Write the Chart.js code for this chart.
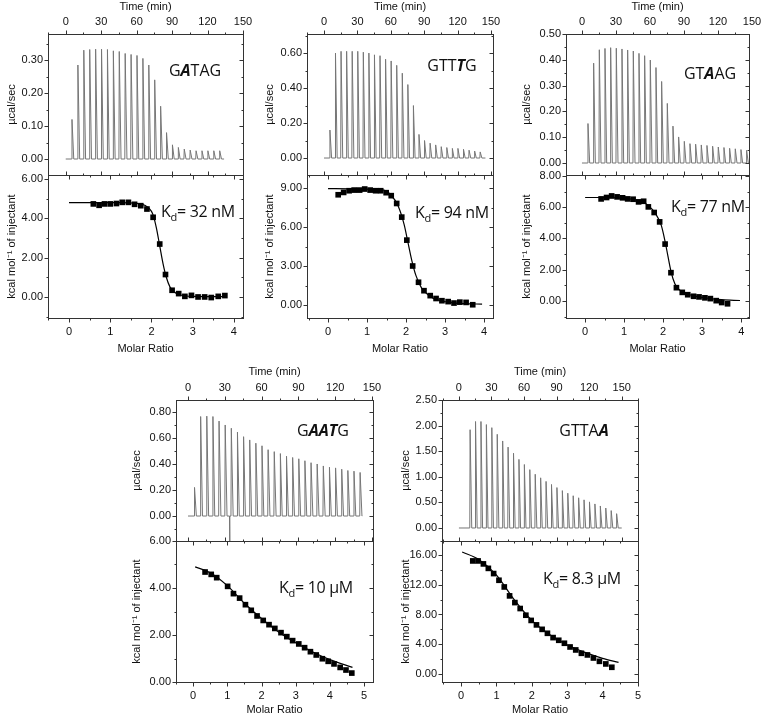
<!DOCTYPE html>
<html>
<head>
<meta charset="utf-8">
<title>ITC titrations</title>
<script src="https://cdn.jsdelivr.net/npm/chart.js@4.4.1/dist/chart.umd.min.js"></script>
<style>
  body { margin: 0; background: #fff; }
  #fig { position: relative; width: 763px; height: 717px; overflow: hidden; }
  #fig canvas { position: absolute; }
  .note { position: absolute; font-family: 'Open Sans', sans-serif; font-size: 16px; line-height: 1;
          color: #111; white-space: nowrap; transform: translate(-50%, -50%); }
  .note b { font-style: italic; }
  .note.kd { letter-spacing: -0.3px; }
  .note sub { font-size: 11px; vertical-align: -4px; line-height: 0; }
</style>
</head>
<body>
<div id="fig"></div>
<script>
// injection times (min) and values
const injMin = [5, 10, 15, 20, 25, 30, 35, 40, 45, 50, 55, 60, 65, 70, 75, 80, 85, 90, 95, 100, 105, 110, 115, 120, 125, 130, 135, 140, 145];

const timeTicks = [0, 30, 60, 90, 120, 150];
const ratioTicks4 = [0, 1, 2, 3, 4];
const ratioTicks5 = [0, 1, 2, 3, 4, 5];

// GATAG
const gatagBase = [0, 134];
const gatagPeaks = [0.12, 0.285, 0.33, 0.332, 0.333, 0.333, 0.332, 0.328, 0.326, 0.32, 0.317, 0.314, 0.305, 0.285, 0.24, 0.16, 0.08, 0.043, 0.035, 0.03, 0.027, 0.025, 0.025, 0.025, 0.025, 0.025];
const gatagRatio = [0.59, 0.73, 0.86, 1.0, 1.15, 1.29, 1.44, 1.59, 1.74, 1.89, 2.04, 2.2, 2.34, 2.5, 2.66, 2.81, 2.97, 3.13, 3.29, 3.45, 3.62, 3.78];
const gatagHeat = [4.73, 4.66, 4.73, 4.73, 4.75, 4.81, 4.81, 4.71, 4.64, 4.47, 4.05, 2.69, 1.14, 0.34, 0.17, 0.03, 0.08, 0, 0, -0.03, 0.03, 0.07];
const gatagFitX = [0, 1.2, 1.6, 1.85, 2.0, 2.05, 2.12, 2.2, 2.28, 2.36, 2.45, 2.55, 2.7, 3.0, 3.8];
const gatagFitY = [4.8, 4.8, 4.77, 4.65, 4.35, 4.1, 3.5, 2.6, 1.7, 1.0, 0.5, 0.25, 0.1, 0.03, 0.02];
const gatagRawTicks = [0, 0.1, 0.2, 0.3];
const gatagHeatTicks = [0, 2, 4, 6];

// GTTTG
const gtttgBase = [0, 145];
const gtttgPeaks = [0.16, 0.60, 0.61, 0.61, 0.61, 0.61, 0.605, 0.60, 0.59, 0.585, 0.565, 0.555, 0.53, 0.485, 0.42, 0.30, 0.135, 0.10, 0.085, 0.075, 0.065, 0.06, 0.055, 0.055, 0.05, 0.045, 0.04, 0.035];
const gtttgRatio = [0.26, 0.40, 0.54, 0.67, 0.81, 0.94, 1.08, 1.22, 1.35, 1.49, 1.62, 1.76, 1.89, 2.02, 2.17, 2.32, 2.46, 2.62, 2.77, 2.92, 3.08, 3.23, 3.38, 3.54, 3.71];
const gtttgHeat = [8.48, 8.66, 8.79, 8.84, 8.84, 8.92, 8.84, 8.79, 8.79, 8.64, 8.41, 7.81, 6.76, 4.99, 3.0, 1.75, 1.1, 0.72, 0.5, 0.33, 0.26, 0.15, 0.22, 0.2, 0.02];
const gtttgFitX = [0, 1.4, 1.6, 1.8, 1.95, 2.05, 2.15, 2.25, 2.4, 2.6, 2.8, 3.1, 3.5, 3.95];
const gtttgFitY = [8.95, 8.85, 8.5, 7.6, 6.2, 4.8, 3.4, 2.3, 1.3, 0.7, 0.4, 0.2, 0.1, 0.07];
const gtttgRawTicks = [0, 0.2, 0.4, 0.6];
const gtttgHeatTicks = [0, 3, 6, 9];

// GTAAG
const gtaagBase = [0, 147];
const gtaagPeaks = [0.153, 0.387, 0.439, 0.444, 0.447, 0.445, 0.442, 0.438, 0.434, 0.425, 0.416, 0.399, 0.37, 0.316, 0.231, 0.143, 0.101, 0.084, 0.075, 0.073, 0.07, 0.068, 0.065, 0.062, 0.06, 0.057, 0.055, 0.052, 0.049];
const gtaagRatio = [0.41, 0.55, 0.68, 0.82, 0.96, 1.09, 1.23, 1.37, 1.5, 1.62, 1.77, 1.91, 2.05, 2.2, 2.34, 2.49, 2.63, 2.78, 2.92, 3.07, 3.21, 3.36, 3.5, 3.65];
const gtaagHeat = [6.53, 6.62, 6.72, 6.66, 6.6, 6.53, 6.51, 6.34, 6.38, 6.02, 5.66, 5.06, 3.64, 1.81, 0.85, 0.55, 0.4, 0.3, 0.26, 0.2, 0.15, 0.02, -0.1, -0.18];
const gtaagFitX = [0, 0.5, 1.0, 1.4, 1.6, 1.8, 1.95, 2.05, 2.12, 2.2, 2.3, 2.4, 2.5, 2.7, 3.0, 3.5, 3.97];
const gtaagFitY = [6.62, 6.62, 6.57, 6.4, 6.15, 5.6, 4.85, 3.8, 2.9, 1.9, 1.1, 0.75, 0.58, 0.38, 0.22, 0.08, 0.03];
const gtaagRawTicks = [0, 0.1, 0.2, 0.3, 0.4, 0.5];
const gtaagHeatTicks = [0, 2, 4, 6, 8];

// GAATG
const gaatgBase = [0, 142];
const gaatgGlitch = [34, -0.3];
const gaatgPeaks = [0.22, 0.765, 0.768, 0.765, 0.73, 0.70, 0.675, 0.645, 0.61, 0.585, 0.56, 0.54, 0.51, 0.495, 0.48, 0.46, 0.45, 0.44, 0.425, 0.41, 0.40, 0.385, 0.375, 0.37, 0.36, 0.35, 0.345, 0.335];
const gaatgRatio = [0.35, 0.53, 0.69, 1.01, 1.18, 1.36, 1.53, 1.70, 1.87, 2.05, 2.22, 2.39, 2.57, 2.74, 2.91, 3.09, 3.26, 3.43, 3.60, 3.78, 3.95, 4.12, 4.30, 4.47, 4.64];
const gaatgHeat = [4.68, 4.58, 4.44, 4.07, 3.76, 3.57, 3.29, 3.05, 2.81, 2.62, 2.44, 2.28, 2.1, 1.93, 1.76, 1.62, 1.46, 1.29, 1.15, 0.99, 0.88, 0.77, 0.62, 0.51, 0.38];
const gaatgFitX = [0.06, 0.5, 1.0, 1.5, 2.0, 2.5, 3.0, 3.5, 4.0, 4.66];
const gaatgFitY = [4.9, 4.65, 4.1, 3.35, 2.7, 2.13, 1.67, 1.28, 0.95, 0.62];
const gaatgRawTicks = [0, 0.2, 0.4, 0.6, 0.8];
const gaatgHeatTicks = [0, 2, 4, 6];

// GTTAA
const gttaaBase = [0, 150];
const gttaaPeaks = [1.92, 2.08, 2.08, 2.02, 1.96, 1.83, 1.70, 1.58, 1.46, 1.34, 1.24, 1.14, 1.05, 0.98, 0.91, 0.85, 0.79, 0.73, 0.68, 0.63, 0.59, 0.55, 0.51, 0.47, 0.43, 0.39, 0.34, 0.28];
const gttaaRatio = [0.33, 0.48, 0.63, 0.77, 0.92, 1.07, 1.22, 1.37, 1.52, 1.67, 1.83, 1.98, 2.13, 2.29, 2.44, 2.6, 2.76, 2.92, 3.08, 3.24, 3.4, 3.57, 3.74, 3.91, 4.09, 4.26];
const gttaaHeat = [15.2, 15.2, 14.8, 14.2, 13.5, 12.6, 11.7, 10.5, 9.6, 8.8, 7.9, 7.2, 6.6, 6.0, 5.47, 4.89, 4.53, 4.13, 3.63, 3.23, 2.78, 2.56, 2.15, 1.7, 1.35, 0.9];
const gttaaFitX = [0.03, 0.5, 1.0, 1.5, 2.0, 2.5, 3.0, 3.5, 4.0, 4.45];
const gttaaFitY = [16.4, 15.4, 13.3, 10.0, 7.2, 5.3, 3.9, 2.9, 2.1, 1.55];
const gttaaRawTicks = [0, 0.5, 1, 1.5, 2, 2.5];
const gttaaHeatTicks = [0, 4, 8, 12, 16];

// layout of the two rows (pixels)
const rows = {
  1: { titleTop: 0, top: 34, mid: 175, bot: 318, bottom: 356 },
  2: { titleTop: 365, top: 400, mid: 541, bot: 682, bottom: 717 }
};

const panels = [
  { row: 1, l: 48, r: 243, titleX: 12, time: [-15, 150], raw: [-0.0485, 0.379], ratio: [-0.51, 4.22], heat: [-1.07, 6.2],
    times: injMin.slice(0, 26), peaks: gatagPeaks, base: gatagBase, rawTicks: gatagRawTicks, heatTicks: gatagHeatTicks, ratioTicks: ratioTicks4,
    mx: gatagRatio, my: gatagHeat, fx: gatagFitX, fy: gatagFitY,
    seq: 'G<b>A</b>TAG', seqAt: [195, 70], kd: 'K<sub>d</sub>= 32 nM', kdAt: [198, 211] },
  { row: 1, l: 307, r: 493, titleX: 270, time: [-15.3, 151.8], raw: [-0.097, 0.709], ratio: [-0.54, 4.23], heat: [-1.0, 10.0],
    times: injMin.slice(0, 28), peaks: gtttgPeaks, base: gtttgBase, rawTicks: gtttgRawTicks, heatTicks: gtttgHeatTicks, ratioTicks: ratioTicks4,
    mx: gtttgRatio, my: gtttgHeat, fx: gtttgFitX, fy: gtttgFitY,
    seq: 'GTT<b>T</b>G', seqAt: [452, 65], kd: 'K<sub>d</sub>= 94 nM', kdAt: [452, 212] },
  { row: 1, l: 566, r: 749, titleX: 527, time: [-14.1, 147.4], raw: [-0.0465, 0.5], ratio: [-0.49, 4.2], heat: [-1.09, 8.06],
    times: injMin.slice(0, 29), peaks: gtaagPeaks, base: gtaagBase, rawTicks: gtaagRawTicks, heatTicks: gtaagHeatTicks, ratioTicks: ratioTicks4,
    mx: gtaagRatio, my: gtaagHeat, fx: gtaagFitX, fy: gtaagFitY,
    seq: 'GT<b>A</b>AG', seqAt: [710, 73], kd: 'K<sub>d</sub>= 77 nM', kdAt: [708, 206] },
  { row: 2, l: 176, r: 373, titleX: 137, time: [-9.8, 150.8], raw: [-0.192, 0.892], ratio: [-0.5, 5.26], heat: [0, 6],
    times: injMin.slice(0, 28), peaks: gaatgPeaks, base: gaatgBase, glitch: gaatgGlitch, rawTicks: gaatgRawTicks, heatTicks: gaatgHeatTicks, ratioTicks: ratioTicks5,
    mx: gaatgRatio, my: gaatgHeat, fx: gaatgFitX, fy: gaatgFitY,
    seq: 'G<b>AAT</b>G', seqAt: [323, 430], kd: 'K<sub>d</sub>= 10 µM', kdAt: [316, 587] },
  { row: 2, l: 442, r: 638, titleX: 406, time: [-15.6, 165], raw: [-0.254, 2.5], ratio: [-0.54, 5.0], heat: [-1.08, 17.88],
    times: injMin.slice(1, 29), peaks: gttaaPeaks, base: gttaaBase, rawTicks: gttaaRawTicks, heatTicks: gttaaHeatTicks, ratioTicks: ratioTicks5,
    mx: gttaaRatio, my: gttaaHeat, fx: gttaaFitX, fy: gttaaFitY,
    seq: 'GTTA<b>A</b>', seqAt: [584, 430], kd: 'K<sub>d</sub>= 8.3 µM', kdAt: [582, 578] }
];

const fig = document.getElementById('fig');
const tickFont = { family: "'Liberation Sans', Arial, sans-serif", size: 11 };
const ink = '#111';

// spike train of the raw heat trace
function thermogram(times, peaks, base, glitch) {
  const pts = [{ x: base[0], y: 0 }];
  times.forEach((t, i) => {
    pts.push({ x: t, y: 0 }, { x: t + 0.3, y: peaks[i] }, { x: t + 1.8, y: 0 });
  });
  if (glitch) pts.push({ x: glitch[0] - 0.2, y: 0 }, { x: glitch[0], y: glitch[1] }, { x: glitch[0] + 0.2, y: 0 });
  pts.push({ x: base[1], y: 0 });
  return pts.sort((a, b) => a.x - b.x);
}

const pairs = (xs, ys) => xs.map((x, i) => ({ x, y: ys[i] }));

function noPad(s) { s.paddingLeft = 0; s.paddingRight = 0; s.paddingTop = 0; s.paddingBottom = 0; }

function axisX(position, range, ticks, title, size) {
  return {
    type: 'linear', position, min: range[0], max: range[1],
    afterBuildTicks: s => { s.ticks = ticks.map(v => ({ value: v })); },
    afterFit: s => { s.height = size; noPad(s); },
    grid: { display: false, drawTicks: true, tickLength: position === 'top' ? 3 : 4 },
    border: { display: false },
    ticks: { autoSkip: false, maxRotation: 0, padding: position === 'top' ? 2 : 3, color: ink, font: tickFont,
             callback: v => String(v) },
    title: { display: true, text: title, color: ink, font: tickFont, padding: 0 }
  };
}

function axisY(range, ticks, title, size) {
  return {
    type: 'linear', position: 'left', min: range[0], max: range[1],
    afterBuildTicks: s => { s.ticks = ticks.map(v => ({ value: v })); },
    afterFit: s => { s.width = size; noPad(s); },
    grid: { display: false, drawTicks: true, tickLength: 3 },
    border: { display: false },
    ticks: { autoSkip: false, padding: 2, color: ink, font: tickFont, callback: v => v.toFixed(2) },
    title: { display: true, text: title, color: ink, font: tickFont, padding: 0 }
  };
}

// majors every step, minors halfway
function tickMarks(s) {
  const vals = s.ticks.map(t => t.value);
  const step = vals[1] - vals[0];
  const out = [];
  for (let k = -4; k <= vals.length * 2 + 4; k++) {
    const v = vals[0] + k * step / 2;
    if (v >= s.min - 1e-9 && v <= s.max + 1e-9) out.push([v, Math.abs(k) % 2 === 0 ? 4 : 2]);
  }
  return out;
}

const framePlugin = {
  id: 'frame',
  afterDraw(chart) {
    const { ctx, chartArea: a, scales: { x, y } } = chart;
    const L = Math.round(a.left) + 0.5, R = Math.round(a.right) + 0.5;
    const T = Math.round(a.top) + 0.5, B = Math.round(a.bottom) + 0.5;
    const top = x.options.position === 'top';
    ctx.save();
    ctx.strokeStyle = '#333';
    ctx.lineWidth = 1;
    ctx.strokeRect(L, T, R - L, B - T);
    ctx.beginPath();
    tickMarks(x).forEach(([v, len]) => {
      const px = Math.round(x.getPixelForValue(v)) + 0.5;
      if (top) {
        ctx.moveTo(px, T); ctx.lineTo(px, T - len);
        ctx.moveTo(px, B); ctx.lineTo(px, B - len);
      } else {
        ctx.moveTo(px, B); ctx.lineTo(px, B + len);
        ctx.moveTo(px, T); ctx.lineTo(px, T + len);
      }
    });
    tickMarks(y).forEach(([v, len]) => {
      const py = Math.round(y.getPixelForValue(v)) + 0.5;
      ctx.moveTo(L, py); ctx.lineTo(L - len, py);
      ctx.moveTo(R, py); ctx.lineTo(R - len, py);
    });
    ctx.stroke();
    ctx.restore();
  }
};

function addCanvas(left, top, w, h) {
  const c = document.createElement('canvas');
  c.width = w; c.height = h;
  c.style.left = left + 'px'; c.style.top = top + 'px';
  c.style.width = w + 'px'; c.style.height = h + 'px';
  fig.appendChild(c);
  return c;
}

const baseOptions = {
  responsive: false, animation: false, events: [],
  plugins: { legend: { display: false }, tooltip: { enabled: false } }
};

function rawChart(p) {
  const row = rows[p.row];
  const left = p.titleX - 7, top = row.titleTop, right = p.r + 14, bottom = row.mid + 8;
  const c = addCanvas(left, top, right - left, bottom - top);
  new Chart(c, {
    type: 'scatter',
    data: {
      datasets: [{
        data: thermogram(p.times, p.peaks, p.base, p.glitch),
        showLine: true, borderColor: '#767676', borderWidth: 1, pointRadius: 0, tension: 0
      }]
    },
    options: {
      ...baseOptions,
      layout: { padding: { left: 0, top: 0, right: 14, bottom: 8 } },
      scales: {
        x: axisX('top', p.time, timeTicks, 'Time (min)', row.top - top),
        y: axisY(p.raw, p.rawTicks, 'µcal/sec', p.l - left)
      }
    },
    plugins: [framePlugin]
  });
}

function heatChart(p) {
  const row = rows[p.row];
  const left = p.titleX - 7, top = row.mid - 8, right = p.r + 14, bottom = row.bottom;
  const c = addCanvas(left, top, right - left, bottom - top);
  new Chart(c, {
    type: 'scatter',
    data: {
      datasets: [
        { data: pairs(p.mx, p.my), pointStyle: 'rect', pointRadius: 4, backgroundColor: '#000', borderColor: '#000', borderWidth: 0 },
        { data: pairs(p.fx, p.fy), showLine: true, pointRadius: 0, borderColor: '#000', borderWidth: 1.2,
          cubicInterpolationMode: 'monotone' }
      ]
    },
    options: {
      ...baseOptions,
      layout: { padding: { left: 0, top: 8, right: 14, bottom: 0 } },
      scales: {
        x: axisX('bottom', p.ratio, p.ratioTicks, 'Molar Ratio', bottom - row.bot),
        y: axisY(p.heat, p.heatTicks, 'kcal mol⁻¹ of injectant', p.l - left)
      }
    },
    plugins: [framePlugin]
  });
}

function note(html, at, cls) {
  const d = document.createElement('div');
  d.className = 'note ' + cls;
  d.innerHTML = html;
  d.style.left = at[0] + 'px';
  d.style.top = at[1] + 'px';
  fig.appendChild(d);
}

panels.forEach(p => { rawChart(p); heatChart(p); });
panels.forEach(p => { note(p.seq, p.seqAt, 'seq'); note(p.kd, p.kdAt, 'kd'); });
</script>
</body>
</html>
